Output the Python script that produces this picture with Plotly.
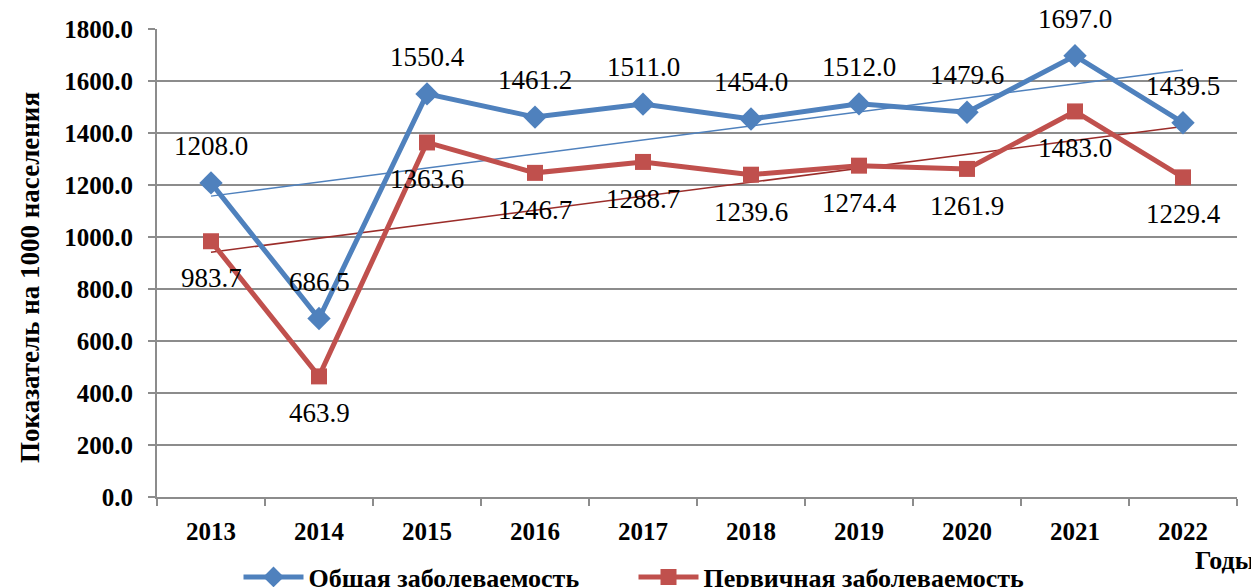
import numpy as np
import plotly.graph_objects as go

years = ["2013", "2014", "2015", "2016", "2017", "2018", "2019", "2020", "2021", "2022"]
total = [1208.0, 686.5, 1550.4, 1461.2, 1511.0, 1454.0, 1512.0, 1479.6, 1697.0, 1439.5]
primary = [983.7, 463.9, 1363.6, 1246.7, 1288.7, 1239.6, 1274.4, 1261.9, 1483.0, 1229.4]
name_total = "Общая заболеваемость"
name_primary = "Первичная заболеваемость"
y_title = "Показатель на 1000 населения"
x_title = "Годы"

BLUE = "#4F81BD"
RED = "#C0504D"
TREND_RED = "#9B2D2A"
GRID = "#8C8C8C"
FONT = "Liberation Serif"

# page body has an 8px default margin; figure coordinates are page - 8
OFF = 8
W, H = 1259 - OFF, 587 - OFF
L, R, T, B = 157 - OFF, 1237 - OFF, 29 - OFF, 497 - OFF

idx = np.arange(1, len(years) + 1)


def trend(vals):
    k, b = np.polyfit(idx, np.array(vals), 1)
    return list(k * idx + b)


fig = go.Figure()
fig.add_trace(go.Scatter(x=years, y=trend(total), mode="lines",
                         line=dict(color=BLUE, width=1.5), showlegend=False, hoverinfo="skip"))
fig.add_trace(go.Scatter(x=years, y=trend(primary), mode="lines",
                         line=dict(color=TREND_RED, width=1.5), showlegend=False, hoverinfo="skip"))
fig.add_trace(go.Scatter(x=years, y=total, mode="lines+markers", name=name_total,
                         line=dict(color=BLUE, width=5),
                         marker=dict(symbol="diamond", size=18, color=BLUE)))
fig.add_trace(go.Scatter(x=years, y=primary, mode="lines+markers", name=name_primary,
                         line=dict(color=RED, width=5),
                         marker=dict(symbol="square", size=16, color=RED)))

annotations = []
for i, v in enumerate(total):
    annotations.append(dict(x=i, y=v, xref="x", yref="y", text=f"{v:.1f}", showarrow=False,
                            yshift=37, font=dict(family=FONT, size=27, color="black")))
for i, v in enumerate(primary):
    annotations.append(dict(x=i, y=v, xref="x", yref="y", text=f"{v:.1f}", showarrow=False,
                            yshift=-37, font=dict(family=FONT, size=27, color="black")))
annotations.append(dict(x=(30 - OFF - L) / (R - L), y=(B - (278 - OFF)) / (B - T),
                        xref="paper", yref="paper", xanchor="center", yanchor="middle",
                        text=f"<b>{y_title}</b>", textangle=-90, showarrow=False,
                        font=dict(family=FONT, size=27, color="black")))
annotations.append(dict(x=(1225 - OFF - L) / (R - L), y=(B - (560 - OFF)) / (B - T),
                        xref="paper", yref="paper", xanchor="center", yanchor="middle",
                        text=f"<b>{x_title}</b>", showarrow=False,
                        font=dict(family=FONT, size=26, color="black")))

fig.update_layout(
    width=W, height=H,
    margin=dict(l=L, r=W - R, t=T, b=H - B, autoexpand=False),
    paper_bgcolor="white", plot_bgcolor="white",
    font=dict(family=FONT, color="black"),
    showlegend=True,
    legend=dict(orientation="h", x=0.5, xanchor="center", xref="container",
                y=(H - (577 - OFF)) / H, yanchor="middle", yref="container",
                font=dict(family=FONT, size=26, color="black", weight="bold"),
                itemwidth=60, entrywidth=320, entrywidthmode="pixels", tracegroupgap=0),
    annotations=annotations,
)
fig.update_xaxes(type="category", range=[-0.5, len(years) - 0.5], autorange=False,
                 automargin=False,
                 showline=True, linecolor=GRID, linewidth=2,
                 showgrid=False, ticks="outside", tickson="boundaries", ticklen=7,
                 tickcolor=GRID, tickwidth=2, ticklabelstandoff=11, tickangle=0,
                 tickfont=dict(family=FONT, size=25, color="black", weight="bold"))
fig.update_yaxes(range=[0, 1800], autorange=False, dtick=200, tickformat=".1f", showline=True,
                 automargin=False,
                 linecolor=GRID, linewidth=2, showgrid=True, gridcolor=GRID, gridwidth=2,
                 ticks="outside", ticklen=7, tickcolor=GRID, tickwidth=2,
                 ticklabelstandoff=10, zeroline=False,
                 tickfont=dict(family=FONT, size=25, color="black", weight="bold"))

fig.write_html("out.html")
